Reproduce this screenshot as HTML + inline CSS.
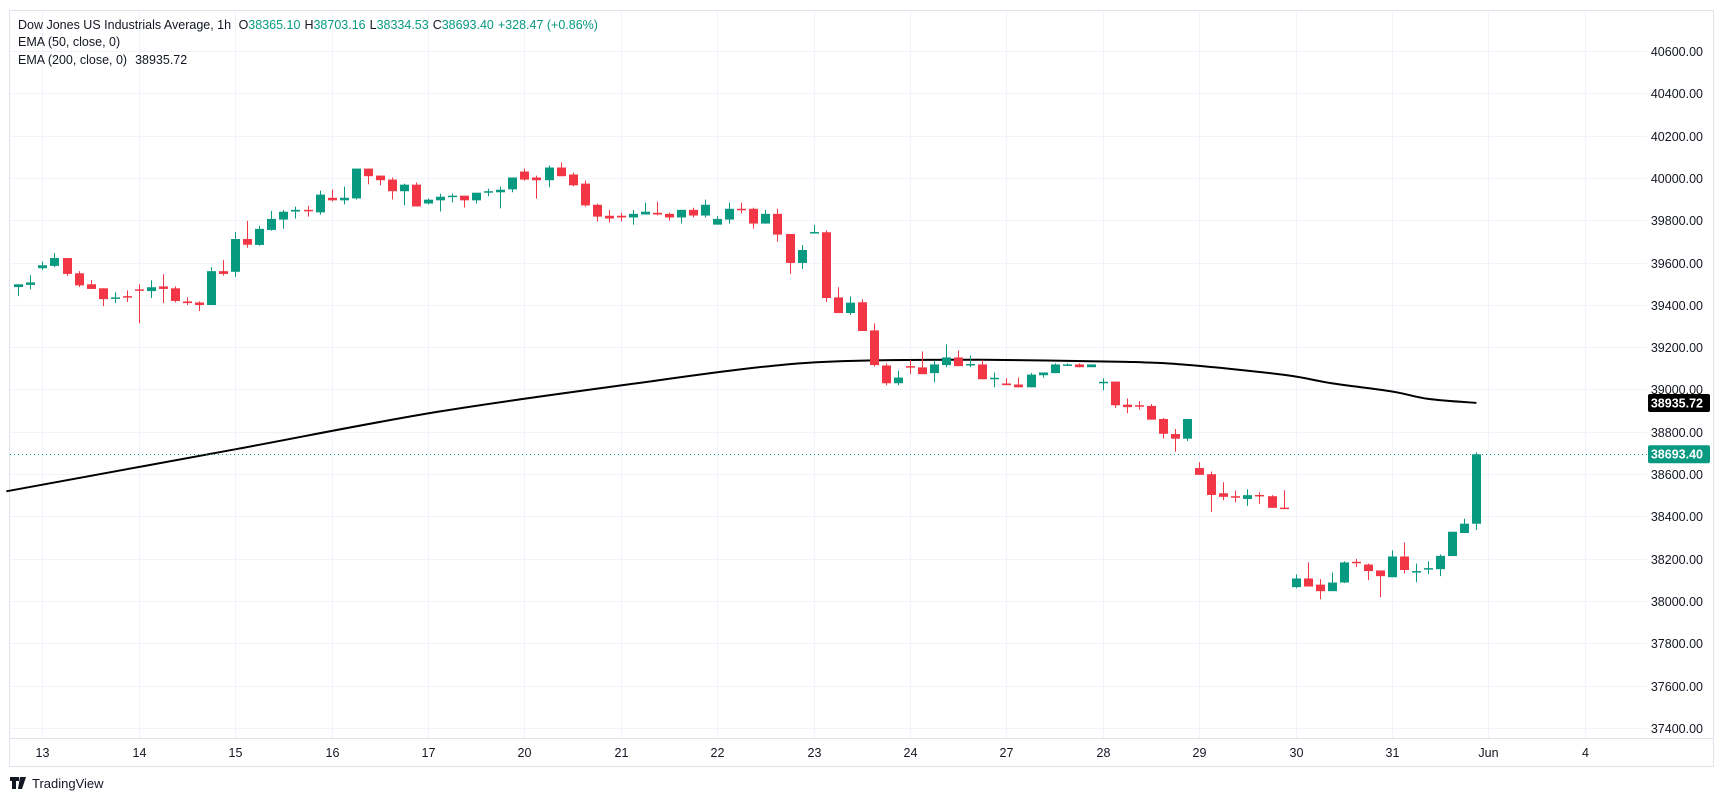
<!DOCTYPE html>
<html><head><meta charset="utf-8">
<style>
html,body{margin:0;padding:0;background:#fff;}
body{width:1723px;height:801px;overflow:hidden;font-family:"Liberation Sans","DejaVu Sans",sans-serif;}
svg{display:block;}
</style></head>
<body>
<svg id="chart" width="1723" height="801" viewBox="0 0 1723 801" xmlns="http://www.w3.org/2000/svg">
  <rect x="9.5" y="10.5" width="1704" height="756" fill="#fff" stroke="#e0e3eb" stroke-width="1"/>
  <g id="grid"></g>
  <g id="yaxis"></g>
  <g id="xaxis"></g>
  <line x1="10" y1="738.5" x2="1713" y2="738.5" stroke="#e0e3eb"/>
  <g id="ema"></g>
  <g id="candles"></g>
  <g id="labels"></g>
  <g font-size="12.5" fill="#131722">
    <text x="18" y="29">Dow Jones US Industrials Average, 1h <tspan dx="4">O</tspan><tspan fill="#089981">38365.10</tspan><tspan dx="4">H</tspan><tspan fill="#089981">38703.16</tspan><tspan dx="4">L</tspan><tspan fill="#089981">38334.53</tspan><tspan dx="4">C</tspan><tspan fill="#089981">38693.40</tspan><tspan dx="4" fill="#089981">+328.47 (+0.86%)</tspan></text>
    <text x="18" y="46">EMA (50, close, 0)</text>
    <text x="18" y="64">EMA (200, close, 0)<tspan dx="8">38935.72</tspan></text>
  </g>
  <g>
    <path d="M10 777h9v4h-3v8h-4v-8h-2z M20 777h6l-4 12h-4z" fill="#131722"/>
    <text x="32" y="788" font-size="13" fill="#131722">TradingView</text>
  </g>
</svg>
<script>
const priceTicks = [40600,40400,40200,40000,39800,39600,39400,39200,39000,38800,38600,38400,38200,38000,37800,37600,37400];
const dayLabels = ["13","14","15","16","17","20","21","22","23","24","27","28","29","30","31","Jun","4"];
const dayStartIdx = [2,10,18,26,34,42,50,58,66,74,82,90,98,106,114,122,130];
const opens = [39484,39494,39573,39584,39621,39549,39497,39478,39432,39441,39473,39465,39487,39478,39416,39411,39399,39559,39556,39711,39683,39754,39803,39841,39849,39837,39906,39894,39903,40044,40011,39992,39937,39968,39879,39894,39913,39916,39894,39932,39932,39946,40030,40002,39989,40049,40016,39973,39873,39821,39821,39813,39827,39835,39830,39813,39849,39822,39779,39803,39854,39854,39784,39830,39735,39598,39738,39743,39435,39361,39412,39279,39113,39029,39110,39104,39077,39115,39151,39115,39118,39048,39028,39023,39010,39067,39077,39115,39118,39105,39031,39037,38928,38925,38922,38860,38789,38767,38628,38599,38509,38495,38482,38501,38495,38441,38065,38106,38077,38046,38087,38185,38172,38144,38112,38210,38134,38150,38150,38212,38321,38365];
const highs = [39497,39540,39605,39645,39621,39559,39516,39478,39459,39468,39497,39516,39545,39487,39435,39416,39578,39611,39744,39797,39773,39844,39848,39864,39868,39940,39944,39959,40044,40044,40011,40002,39973,39978,39902,39925,39925,39916,39930,39949,39959,40002,40044,40011,40059,40073,40025,39987,39878,39848,39835,39849,39883,39887,39835,39849,39859,39897,39819,39883,39883,39859,39849,39854,39735,39683,39778,39752,39483,39440,39426,39312,39123,39089,39140,39179,39137,39213,39184,39160,39140,39080,39052,39056,39078,39080,39123,39123,39123,39118,39052,39037,38957,38945,38931,38865,38813,38860,38656,38612,38561,38522,38528,38514,38500,38523,38125,38182,38103,38134,38187,38198,38177,38144,38239,38277,38176,38187,38220,38327,38389,38703];
const lows = [39441,39473,39565,39578,39537,39484,39475,39394,39408,39413,39313,39432,39408,39411,39399,39370,39399,39538,39532,39670,39679,39751,39760,39808,39817,39827,39889,39875,39898,39970,39965,39898,39870,39865,39875,39841,39884,39860,39879,39913,39856,39932,39987,39902,39956,40008,39960,39864,39794,39789,39794,39779,39827,39822,39798,39784,39814,39813,39779,39784,39832,39760,39784,39698,39546,39570,39738,39413,39361,39352,39276,39108,39020,39020,39072,39072,39034,39105,39110,39105,39048,39010,39020,39010,39010,39055,39077,39115,39105,39105,38996,38913,38887,38903,38857,38767,38705,38756,38596,38421,38476,38466,38449,38459,38440,38435,38060,38068,38008,38046,38084,38160,38098,38017,38112,38131,38088,38126,38117,38212,38321,38335];
const closes = [39497,39506,39587,39621,39546,39492,39475,39427,39435,39438,39470,39483,39475,39418,39408,39399,39559,39546,39711,39684,39759,39806,39840,39849,39844,39921,39894,39906,40044,40008,39989,39937,39968,39865,39897,39911,39916,39894,39930,39937,39944,40002,39992,39989,40049,40008,39965,39870,39817,39808,39813,39830,39840,39827,39813,39849,39822,39873,39806,39854,39851,39784,39830,39732,39598,39659,39744,39432,39361,39410,39276,39115,39029,39056,39107,39072,39118,39151,39110,39120,39048,39055,39020,39010,39070,39080,39118,39118,39105,39118,39036,38925,38916,38922,38857,38790,38767,38860,38596,38501,38492,38489,38500,38498,38440,38435,38106,38068,38046,38087,38182,38180,38141,38117,38210,38146,38141,38155,38213,38327,38365,38693];
const emaIdx = [-1,18,35,53,60,65,71,80,92,97,105,109,114,117,121];
const emaVal = [38518,38717,38896,39042,39095,39124,39137,39140,39130,39116,39069,39029,38990,38955,38936];
const lastClose = 38693.40;
const emaLast = 38935.72;

const NS = "http://www.w3.org/2000/svg";
const X0 = 18.3, STEP = 12.05, PLOT_R = 1647;
function xOf(i){ return X0 + STEP*i; }
function yOf(p){ return 51 + (40600 - p)/200*42.3; }
function mk(tag, attrs, parent){
  const e = document.createElementNS(NS, tag);
  for (const k in attrs) e.setAttribute(k, attrs[k]);
  parent.appendChild(e); return e;
}
const grid = document.getElementById('grid');
const yaxis = document.getElementById('yaxis');
const xaxis = document.getElementById('xaxis');
priceTicks.forEach(p => {
  const y = Math.round(yOf(p)) + 0.5;
  const l = mk('line', {x1:10, x2:PLOT_R, y1:y, y2:y, stroke:'#f0f3fa', 'stroke-width':1}, grid);
  
  
  const t = mk('text', {x:1703, y:y+4.5, 'text-anchor':'end', 'font-size':'12.5', fill:'#131722'}, yaxis);
  t.textContent = p.toFixed(2);
  
  
});
dayLabels.forEach((d, i) => {
  const x = Math.round(xOf(dayStartIdx[i])) + 0.5;
  const l = mk('line', {x1:x, x2:x, y1:11, y2:738, stroke:'#f0f3fa', 'stroke-width':1}, grid);
  
  
  const t = mk('text', {x:x, y:757, 'text-anchor':'middle', 'font-size':'12.5', fill:'#131722'}, xaxis);
  t.textContent = d;
  
  
});
// EMA line (smoothed Catmull-Rom)
const ema = document.getElementById('ema');
const pts = emaIdx.map((k, i) => [xOf(k), yOf(emaVal[i])]);
let dPath = 'M' + pts[0][0].toFixed(1) + ' ' + pts[0][1].toFixed(1);
for (let i = 0; i < pts.length - 1; i++) {
  const p0 = pts[Math.max(0, i-1)], p1 = pts[i], p2 = pts[i+1], p3 = pts[Math.min(pts.length-1, i+2)];
  const c1x = p1[0] + (p2[0]-p0[0])/6, c1y = p1[1] + (p2[1]-p0[1])/6;
  const c2x = p2[0] - (p3[0]-p1[0])/6, c2y = p2[1] - (p3[1]-p1[1])/6;
  dPath += ' C' + c1x.toFixed(1) + ' ' + c1y.toFixed(1) + ' ' + c2x.toFixed(1) + ' ' + c2y.toFixed(1) + ' ' + p2[0].toFixed(1) + ' ' + p2[1].toFixed(1);
}
const ep = mk('path', {d:dPath, fill:'none', stroke:'#000', 'stroke-width':2, 'stroke-linejoin':'round'}, ema);


// candles
const cg = document.getElementById('candles');
opens.forEach((o, i) => {
  const c = closes[i], up = c >= o, col = up ? '#089981' : '#f23645';
  const x = xOf(i);
  const g = mk('g', {}, cg);
  
  
  mk('line', {x1:Math.round(x)+0.5, x2:Math.round(x)+0.5, y1:yOf(highs[i]), y2:yOf(lows[i]), stroke:col, 'stroke-width':1}, g);
  const top = yOf(Math.max(o, c)), bot = yOf(Math.min(o, c));
  mk('rect', {x:Math.round(x)-4, y:top, width:9, height:Math.max(1.5, bot-top), fill:col}, g);
});
// last price dotted line and labels
const lb = document.getElementById('labels');
const ly = Math.round(yOf(lastClose)) + 0.5;
const dl = mk('line', {x1:10, x2:PLOT_R, y1:ly, y2:ly, stroke:'#089981', 'stroke-width':1, 'stroke-dasharray':'1 3'}, lb);


function tag(val, bg, name){
  const y = yOf(val);
  const g = mk('g', {}, lb);
  
  
  mk('rect', {x:1648, y:y-9, width:62, height:18, rx:2, fill:bg}, g);
  const t = mk('text', {x:1703, y:y+4.5, 'text-anchor':'end', 'font-size':'12.5', 'font-weight':'bold', fill:'#fff'}, g);
  t.textContent = val.toFixed(2);
}
tag(emaLast, '#000000', 'ema-200-price-label');
tag(lastClose, '#089981', 'last-price-label');
</script>
</body></html>
